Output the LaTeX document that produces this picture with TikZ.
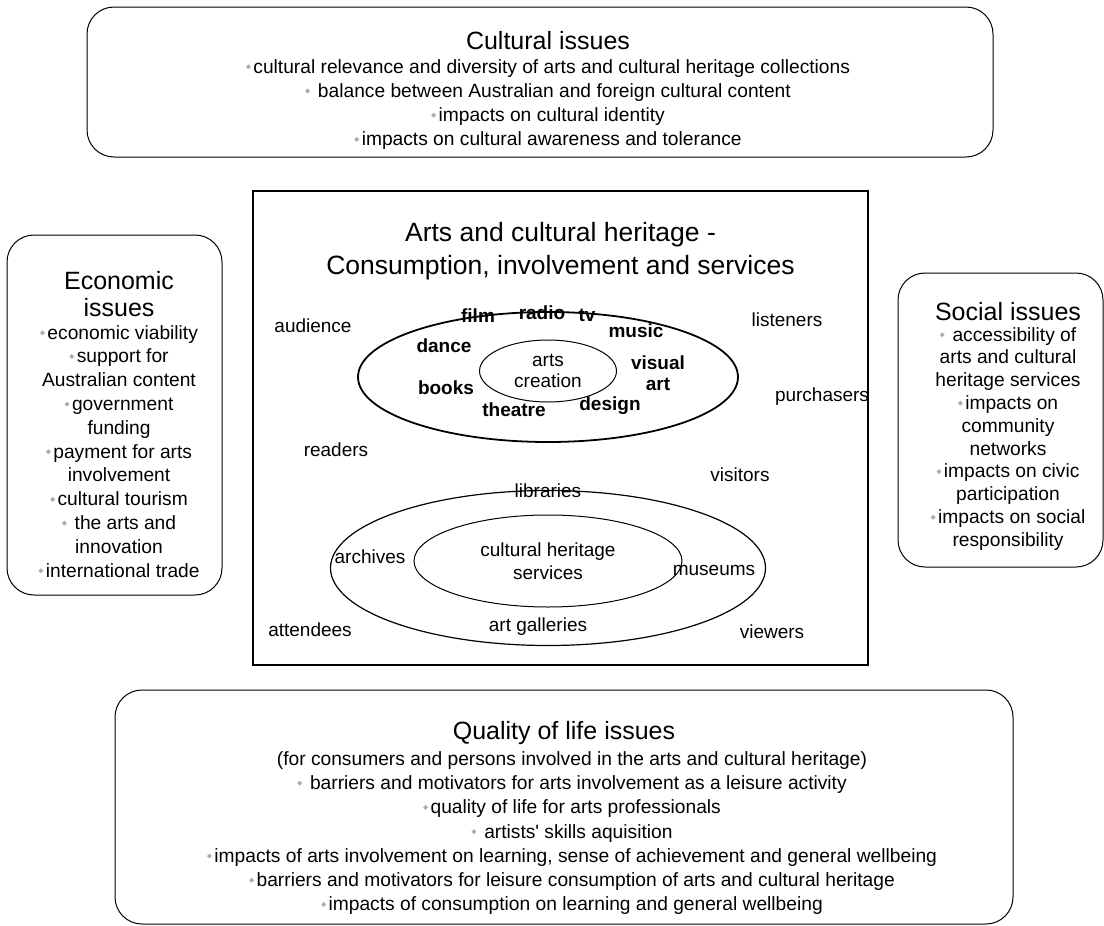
\documentclass[tikz,border=0pt]{standalone}
\usepackage{fontspec}
\setmainfont{Liberation Sans}
\usetikzlibrary{shapes.geometric}

\newcommand{\bul}{{\color{gray!65}\raisebox{0.2em}{\rotatebox{45}{\rule{3.5pt}{3.5pt}}}}\hspace{2.5pt}}

\begin{document}
\begin{tikzpicture}[x=1pt, y=-1pt,
	issuebox/.style={draw, line width=1pt, rounded corners=27pt, inner sep=0pt},
	head/.style={inner sep=0pt, anchor=north, align=center, font=\fontsize{25}{27}\selectfont},
	items/.style={inner sep=0pt, anchor=north, align=center, font=\fontsize{19.2}{24.2}\selectfont},
	word/.style={inner sep=0pt, align=center, font=\fontsize{19}{21}\selectfont},
	art/.style={inner sep=0pt, align=center, font=\bfseries\fontsize{19}{20}\selectfont},
	ring/.style={draw, ellipse, inner sep=0pt}]
	\useasboundingbox (0,0) rectangle (1104,926);
	% cultural issues
	\node[issuebox, minimum width=906pt, minimum height=150pt] (cultbox) at (540,82) {};
	\node[head] (culthead) at (548,31) {Cultural issues};
	\node[items] (cultlist) at (548,59) {\bul cultural relevance and diversity of arts and cultural heritage collections\\
		\bul\ balance between Australian and foreign cultural content\\
		\bul impacts on cultural identity\\
		\bul impacts on cultural awareness and tolerance};
	% economic issues
	\node[issuebox, minimum width=215pt, minimum height=360pt] (econbox) at (114.5,415) {};
	\node[head] (econhead) at (119,271) {Economic\\issues};
	\node[items, font=\fontsize{19.2}{23.8}\selectfont] (econlist) at (119,325) {\bul economic viability\\
		\bul support for\\ Australian content\\
		\bul government\\ funding\\
		\bul payment for arts\\ involvement\\
		\bul cultural tourism\\
		\bul\ the arts and\\ innovation\\
		\bul international trade};
	% social issues
	\node[issuebox, minimum width=205pt, minimum height=294pt] (socbox) at (1000.5,420) {};
	\node[head] (sochead) at (1008,302) {Social issues};
	\node[items, font=\fontsize{19.2}{22.8}\selectfont] (soclist) at (1008,327) {\bul\ accessibility of\\ arts and cultural\\ heritage services\\
		\bul impacts on\\ community\\ networks\\
		\bul impacts on civic\\ participation\\
		\bul impacts on social\\ responsibility};
	% arts and cultural heritage
	\node[draw, line width=2pt, minimum width=615pt, minimum height=474pt, inner sep=0pt] (centre) at (560.5,428) {};
	\node[head, font=\fontsize{26.5}{33}\selectfont] (centrehead) at (560.5,222) {Arts and cultural heritage -\\Consumption, involvement and services};
	\node[ring, line width=1.8pt, minimum width=380pt, minimum height=130pt] (artring) at (548,377) {};
	\node[ring, line width=1pt, minimum width=137pt, minimum height=62pt, align=center, font=\fontsize{19}{21}\selectfont] (artcore) at (548,371) {arts\\creation};
	\node[ring, line width=1.2pt, minimum width=435pt, minimum height=155pt] (heritring) at (548,568) {};
	\node[ring, line width=1pt, minimum width=268pt, minimum height=92pt, align=center, font=\fontsize{19}{23}\selectfont] (heritcore) at (548,561) {cultural heritage\\services};
	\node[art] (film) at (478,316) {film};
	\node[art] (radio) at (542,313) {radio};
	\node[art] (tv) at (587,315) {tv};
	\node[art] (music) at (636,331) {music};
	\node[art] (dance) at (444,346) {dance};
	\node[art, font=\bfseries\fontsize{19}{21}\selectfont] (visual) at (658,373) {visual\\art};
	\node[art] (books) at (446,388) {books};
	\node[art] (theatre) at (514,410) {theatre};
	\node[art] (design) at (610,406) {design};
	\node[word] (audience) at (313,326) {audience};
	\node[word] (listeners) at (787,320) {listeners};
	\node[word] (purchasers) at (822,397) {purchasers};
	\node[word] (readers) at (336,450) {readers};
	\node[word] (visitors) at (740,475) {visitors};
	\node[word] (attendees) at (310,630) {attendees};
	\node[word] (viewers) at (772,632) {viewers};
	\node[word] (libraries) at (548,491) {libraries};
	\node[word] (archives) at (370,557) {archives};
	\node[word] (museums) at (714,570) {museums};
	\node[word] (galleries) at (538,627) {art galleries};
	% quality of life issues
	\node[issuebox, minimum width=898pt, minimum height=234pt] (qualbox) at (564,807) {};
	\node[head] (qualhead) at (564,721) {Quality of life issues};
	\node[items, font=\fontsize{19.2}{24.3}\selectfont] (quallist) at (572,751) {(for consumers and persons involved in the arts and cultural heritage)\\
		\bul\ barriers and motivators for arts involvement as a leisure activity\\
		\bul quality of life for arts professionals\\
		\bul\ artists\textquotesingle\ skills aquisition\\
		\bul impacts of arts involvement on learning, sense of achievement and general wellbeing\\
		\bul barriers and motivators for leisure consumption of arts and cultural heritage\\
		\bul impacts of consumption on learning and general wellbeing};
\end{tikzpicture}
\end{document}
